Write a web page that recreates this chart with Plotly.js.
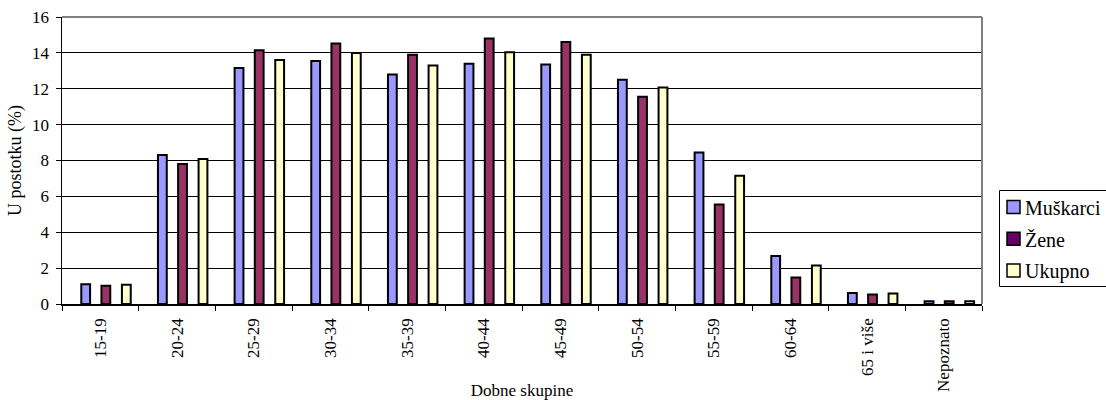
<!DOCTYPE html>
<html>
<head>
<meta charset="utf-8">
<script src="https://cdn.plot.ly/plotly-3.0.1.min.js"></script>
<style>html,body{margin:0;padding:0;background:#fff;}#chart{width:1106px;height:400px;}</style>
</head>
<body>
<div id="chart"></div>
<script>
var categories = ["15-19","20-24","25-29","30-34","35-39","40-44","45-49","50-54","55-59","60-64","65 i više","Nepoznato"];
var seriesNames = ["Muškarci","Žene","Ukupno"];
var muskarci = [1.1, 8.3, 13.15, 13.55, 12.8, 13.4, 13.35, 12.5, 8.45, 2.68, 0.62, 0.15];
var zene     = [1.02, 7.8, 14.15, 14.52, 13.9, 14.8, 14.6, 11.55, 5.55, 1.48, 0.53, 0.15];
var ukupno   = [1.07, 8.08, 13.6, 14.0, 13.3, 14.03, 13.9, 12.07, 7.15, 2.14, 0.58, 0.15];
var yTicks = [0,2,4,6,8,10,12,14,16];

var barColors = ["#9999FF","#993366","#FFFFCC"];
var legendColors = ["#9999FF","#660066","#FFFFCC"];
var seriesValues = [muskarci, zene, ukupno];
var offsets = [-0.2485, 0.0145, 0.2815];

var FONT = "Liberation Serif";

var traces = seriesValues.map(function(vals, i){
  return {
    type: "bar",
    name: seriesNames[i],
    x: categories,
    y: vals,
    width: 0.115,
    offset: offsets[i],
    marker: {color: barColors[i], line: {color: "#000000", width: 2}},
    showlegend: false,
    hoverinfo: "x+y+name"
  };
});

// plot area geometry in px: x 62..982, y 17..304
function px2x(p){ return (p-62)/920; }
function px2y(p){ return (304-p)/287; }

var shapes = [
  {type:"line", xref:"paper", yref:"paper", x0:0, x1:1, y0:1, y1:1, line:{color:"#808080", width:2}, layer:"above"},
  {type:"line", xref:"paper", yref:"paper", x0:1, x1:1, y0:0, y1:1, line:{color:"#808080", width:2}, layer:"above"},
  {type:"rect", xref:"paper", yref:"paper", x0:px2x(999.5), x1:px2x(1112), y0:px2y(286.5), y1:px2y(190.5), line:{color:"#000000", width:1}, fillcolor:"#FFFFFF", layer:"above"}
];
var annotations = [];
var swatchCenters = [207, 238.7, 270.5];
seriesNames.forEach(function(n, i){
  var c = swatchCenters[i];
  shapes.push({type:"rect", xref:"paper", yref:"paper", x0:px2x(1007), x1:px2x(1020), y0:px2y(c+6.5), y1:px2y(c-6.5), line:{color:"#000000", width:1.5}, fillcolor:legendColors[i], layer:"above"});
  annotations.push({xref:"paper", yref:"paper", x:px2x(1023), y:px2y(c+1), xanchor:"left", yanchor:"middle", text:n, showarrow:false, font:{family:FONT, size:20, color:"#000"}});
});

var layout = {
  width: 1106, height: 400,
  margin: {l:62, r:124, t:17, b:96, pad:0},
  paper_bgcolor: "#FFFFFF",
  plot_bgcolor: "#FFFFFF",
  barmode: "overlay",
  showlegend: false,
  font: {family: FONT, color: "#000"},
  xaxis: {
    type: "category",
    range: [-0.5, 11.5],
    showline: true, linecolor: "#000", linewidth: 1.5,
    ticks: "outside", ticklen: 5, tickcolor: "#000", tickwidth: 1,
    tickson: "boundaries",
    tickangle: -90,
    tickfont: {family: FONT, size: 17, color: "#000"},
    ticklabelstandoff: 6,
    showgrid: false,
    zeroline: false,
    title: {text: "Dobne skupine", font: {family: FONT, size: 17, color: "#000"}, standoff: 12}
  },
  yaxis: {
    range: [0, 16],
    tickvals: yTicks,
    showline: true, linecolor: "#000", linewidth: 1.5,
    ticks: "outside", ticklen: 5, tickcolor: "#000", tickwidth: 1,
    tickfont: {family: FONT, size: 17, color: "#000"},
    ticklabelstandoff: 3,
    showgrid: true, gridcolor: "#000", gridwidth: 1,
    zeroline: false,
    title: {text: "U postotku (%)", font: {family: FONT, size: 18, color: "#000"}, standoff: 6}
  },
  shapes: shapes,
  annotations: annotations
};

Plotly.newPlot("chart", traces, layout, {displayModeBar: false, staticPlot: true});
</script>
</body>
</html>
